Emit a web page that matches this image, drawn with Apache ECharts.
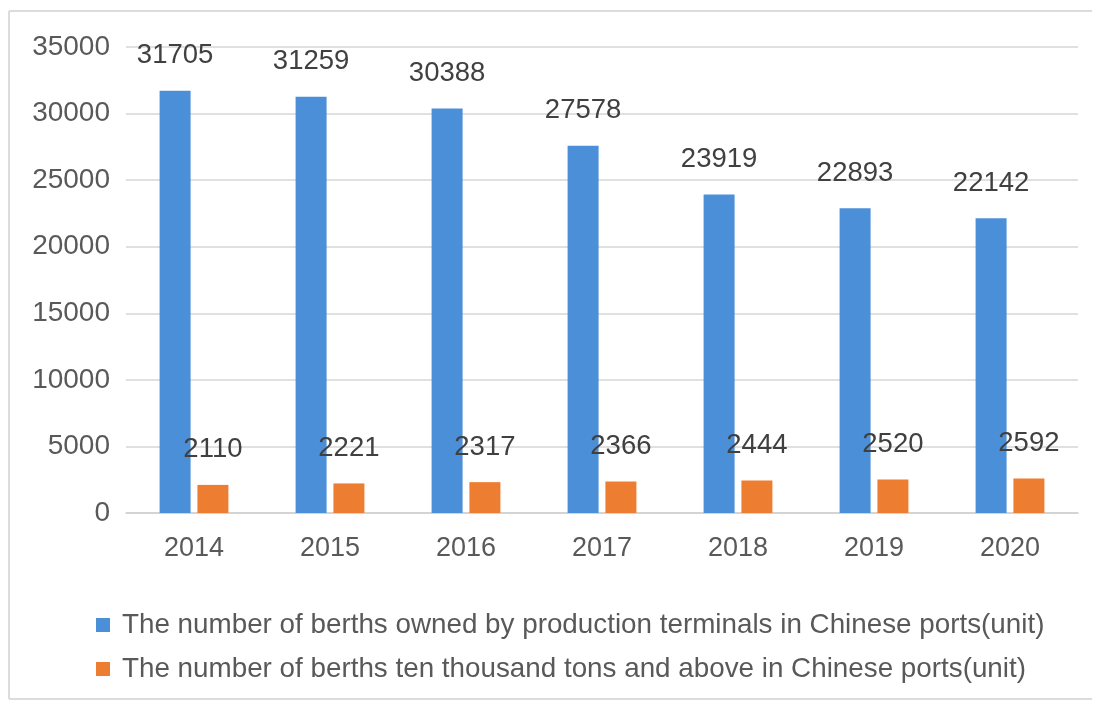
<!DOCTYPE html>
<html>
<head>
<meta charset="utf-8">
<title>Berths in Chinese ports, 2014–2020</title>
<script src="https://cdn.jsdelivr.net/npm/echarts@6/dist/echarts.min.js"></script>
<style>
  html, body { margin: 0; padding: 0; background: #ffffff; overflow: hidden; }
  #chart { width: 1099px; height: 704px; }
</style>
</head>
<body>
<div id="chart"></div>
<script>
// Years on the category axis
const years = ['2014', '2015', '2016', '2017', '2018', '2019', '2020'];

// Berths owned by production terminals (units)
const productionBerths = [31705, 31259, 30388, 27578, 23919, 22893, 22142];

// Berths of ten thousand tons and above (units)
const largeBerths = [2110, 2221, 2317, 2366, 2444, 2520, 2592];

// Series names shown in the legend
const seriesNames = [
  'The number of berths owned by production terminals in Chinese ports(unit)',
  'The number of berths ten thousand tons and above in Chinese ports(unit)'
];

// Value axis ticks
const yMin = 0, yMax = 35000, yStep = 5000;

const FONT = '"Liberation Sans", Arial, sans-serif';
const BLUE = '#4a8fd8';
const ORANGE = '#ed7d31';
const FRAME = '#dcdcdc';

const chart = echarts.init(document.getElementById('chart'), null, { renderer: 'canvas' });

const labelStyle = {
  show: true,
  position: 'top',
  distance: 21,
  color: '#404040',
  fontFamily: FONT,
  fontSize: 27.5
};

// Frame around the chart area: top, left and bottom edges
const frameLine = (x1, y1, x2, y2) => ({
  type: 'line',
  silent: true,
  shape: { x1, y1, x2, y2 },
  style: { stroke: FRAME, lineWidth: 2 }
});

chart.setOption({
  animation: false,
  backgroundColor: '#ffffff',
  graphic: [
    frameLine(9, 11, 1092, 11),
    frameLine(9, 11, 9, 699),
    frameLine(9, 699, 1092, 699)
  ],
  grid: { left: 126, right: 21, top: 47, bottom: 191, containLabel: false },
  legend: {
    orient: 'vertical',
    left: 91,
    top: 606,
    itemGap: 16,
    itemWidth: 21,
    itemHeight: 14,
    icon: 'path://M0,0H14V14H0Z M21,7L21,7',
    textStyle: { color: '#595959', fontFamily: FONT, fontSize: 27.8 },
    data: seriesNames
  },
  xAxis: {
    type: 'category',
    data: years,
    axisTick: { show: false },
    axisLine: { show: true, lineStyle: { color: '#d0d0d0', width: 1.5 } },
    axisLabel: { color: '#595959', fontFamily: FONT, fontSize: 27, margin: 22 }
  },
  yAxis: {
    type: 'value',
    min: yMin,
    max: yMax,
    interval: yStep,
    axisLine: { show: false },
    axisTick: { show: false },
    splitLine: { lineStyle: { color: '#d6d6d6', width: 1.5 } },
    axisLabel: {
      color: '#595959',
      fontFamily: FONT,
      fontSize: 28,
      margin: 16,
      formatter: (v) => String(v)
    }
  },
  series: [
    {
      name: seriesNames[0],
      type: 'bar',
      data: productionBerths,
      barWidth: 31,
      barGap: '22%',
      itemStyle: { color: BLUE },
      label: labelStyle
    },
    {
      name: seriesNames[1],
      type: 'bar',
      data: largeBerths,
      barWidth: 31,
      barGap: '22%',
      itemStyle: { color: ORANGE },
      label: labelStyle
    }
  ]
});
</script>
</body>
</html>
